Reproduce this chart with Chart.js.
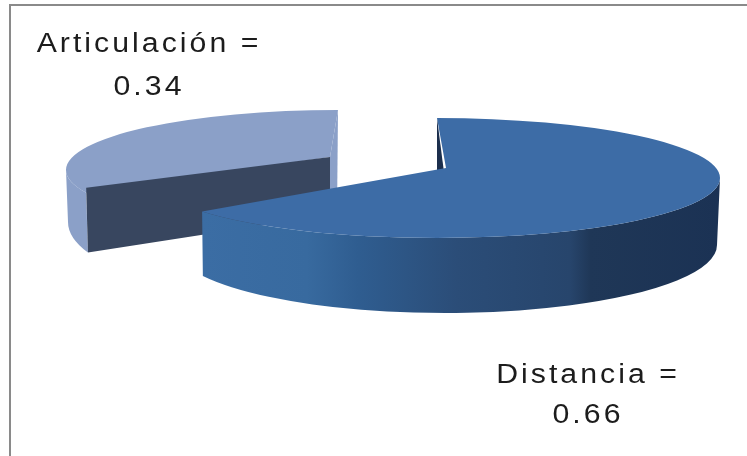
<!DOCTYPE html>
<html>
<head>
<meta charset="utf-8">
<title>Articulación y distancia</title>
<script src="https://cdn.jsdelivr.net/npm/chart.js@4"></script>
<style>
  html, body { margin: 0; background: #fff; }
  #wrap { position: relative; width: 747px; height: 456px; overflow: hidden; }
  #frame { position: absolute; left: 9px; top: 4px; right: 0; bottom: 0; border-left: 2px solid #8a8a8a; border-top: 2px solid #8a8a8a; }
  canvas { position: absolute; left: 0; top: 0; }
</style>
</head>
<body>
<div id="wrap">
  <div id="frame"></div>
  <canvas id="myChart" width="747" height="456"></canvas>
</div>
<script>
const categories = ["Distancia", "Articulación"];
const shares = [0.66, 0.34];
const topColors = ["#3d6ca6", "#8ba0c8"];

// how each wedge sits in the tilted view; bottom is the lower rim of the drum,
// the nudge values make up for the perspective at the lower-left corner (degrees)
const views = [
  {
    top: { x: 437, y: 178, rx: 283, ry: 60 },
    bottom: { x: 445, y: 245, rx: 272, ry: 68 },
    apex: [446, 168],
    nudgeStart: 0,
    nudgeEnd: -1.5,
    nudgeFoot: 5.3,
    face: "#1c2f4d",
    wallStops: [[0, "#3b6da4"], [0.2, "#386a9f"], [0.3, "#2f5d90"], [0.49, "#2b4d78"], [0.71, "#27456c"], [0.75, "#1f3757"], [1, "#1b3254"]],
    wallFrom: 203,
    wallTo: 720,
  },
  {
    top: { x: 338, y: 170, rx: 272, ry: 60 },
    bottom: { x: 337, y: 222, rx: 269, ry: 81 },
    apex: [330, 157],
    nudgeStart: 10.2,
    nudgeEnd: 0,
    nudgeFoot: 10.2,
    face: "#38465f",
    faceLift: 5,
    wallStops: [[0, "#8ba0c8"], [1, "#8ba0c8"]],
    wallFrom: 60,
    wallTo: 340,
    depth: 58,
  },
];

const labelSpots = [
  { x: 588, y: 383, y2: 423 },
  { x: 149, y: 52, y2: 95 },
];

function rimPoint(e, a) {
  return [e.x + e.rx * Math.cos(a), e.y + e.ry * Math.sin(a)];
}

function fillTop(ctx, arc, view, a0, a1) {
  const { top, apex } = view;
  ctx.fillStyle = arc.options.backgroundColor;
  ctx.beginPath();
  ctx.ellipse(top.x, top.y, top.rx, top.ry, 0, a0, a1, false);
  ctx.lineTo(apex[0], apex[1]);
  ctx.closePath();
  ctx.fill();
}

function drawWedge(ctx, arc, view) {
  const rad = Math.PI / 180;
  const a0 = arc.startAngle + view.nudgeStart * rad;
  const a1 = arc.endAngle + view.nudgeEnd * rad;
  const { top, bottom, apex } = view;

  const wall = ctx.createLinearGradient(view.wallFrom, 0, view.wallTo, 0);
  view.wallStops.forEach(s => wall.addColorStop(s[0], s[1]));

  if (view.depth) {
    // opened wedge: the cut wall shows under the top, with a thin strip at its back edge
    const corner = rimPoint(top, a0);
    const footAngle = arc.startAngle + view.nudgeFoot * rad;
    const foot = rimPoint(bottom, footAngle);
    const backRim = rimPoint(top, a1);
    const apexFoot = [apex[0], apex[1] + view.depth];

    // outer wall, only the part left of the cut is ever seen
    ctx.fillStyle = wall;
    ctx.beginPath();
    ctx.ellipse(top.x, top.y, top.rx, top.ry, 0, Math.PI, a0, true);
    ctx.lineTo(foot[0], foot[1]);
    ctx.ellipse(bottom.x, bottom.y, bottom.rx, bottom.ry, 0, footAngle, Math.PI, false);
    ctx.closePath();
    ctx.fill();

    ctx.beginPath();
    ctx.moveTo(backRim[0], backRim[1]);
    ctx.lineTo(apexFoot[0] + 7, apexFoot[1]);
    ctx.lineTo(apexFoot[0], apexFoot[1]);
    ctx.lineTo(apex[0], apex[1]);
    ctx.closePath();
    ctx.fill();

    fillTop(ctx, arc, view, a0, a1);

    ctx.fillStyle = view.face;
    ctx.beginPath();
    ctx.moveTo(apex[0], apex[1]);
    ctx.lineTo(corner[0], corner[1] - view.faceLift);
    ctx.lineTo(foot[0], foot[1]);
    ctx.lineTo(apexFoot[0], apexFoot[1]);
    ctx.closePath();
    ctx.fill();
  } else {
    // small dark sliver of the inner wall beside the notch
    const startRim = rimPoint(top, a0);
    const footAngle = arc.endAngle + view.nudgeFoot * rad;
    const foot = rimPoint(bottom, footAngle);

    ctx.fillStyle = view.face;
    ctx.beginPath();
    ctx.moveTo(startRim[0], startRim[1]);
    ctx.lineTo(startRim[0], apex[1] + 20);
    ctx.lineTo(apex[0], apex[1] + 20);
    ctx.closePath();
    ctx.fill();

    ctx.fillStyle = wall;
    ctx.beginPath();
    ctx.ellipse(top.x, top.y, top.rx, top.ry, 0, 0, a1, false);
    ctx.lineTo(foot[0], foot[1]);
    ctx.ellipse(bottom.x, bottom.y, bottom.rx, bottom.ry, 0, footAngle, 0, true);
    ctx.closePath();
    ctx.fill();

    fillTop(ctx, arc, view, a0, a1);
  }
}

const tiltedPie = {
  id: "tiltedPie",
  beforeDatasetsDraw(chart) {
    const { ctx } = chart;
    const arcs = chart.getDatasetMeta(0).data;
    // the far wedge goes first, the big one overlaps it
    drawWedge(ctx, arcs[1], views[1]);
    drawWedge(ctx, arcs[0], views[0]);

    ctx.fillStyle = "#1c1c1c";
    ctx.font = "27px 'Liberation Sans'";
    ctx.letterSpacing = "2.7px";
    ctx.textAlign = "center";
    categories.forEach((name, i) => {
      const spot = labelSpots[i];
      ctx.save();
      // the label face is a little wider than Liberation Sans
      ctx.translate(spot.x, 0);
      ctx.scale(1.12, 1);
      ctx.fillText(name + " =", 0, spot.y);
      ctx.fillText(shares[i].toFixed(2), 0, spot.y2);
      ctx.restore();
    });
    return false;
  },
};

new Chart(document.getElementById("myChart"), {
  type: "pie",
  data: {
    labels: categories,
    datasets: [{ data: shares, backgroundColor: topColors, borderWidth: 0 }],
  },
  options: {
    responsive: false,
    animation: false,
    plugins: { legend: { display: false }, tooltip: { enabled: false } },
  },
  plugins: [tiltedPie],
});
</script>
</body>
</html>
